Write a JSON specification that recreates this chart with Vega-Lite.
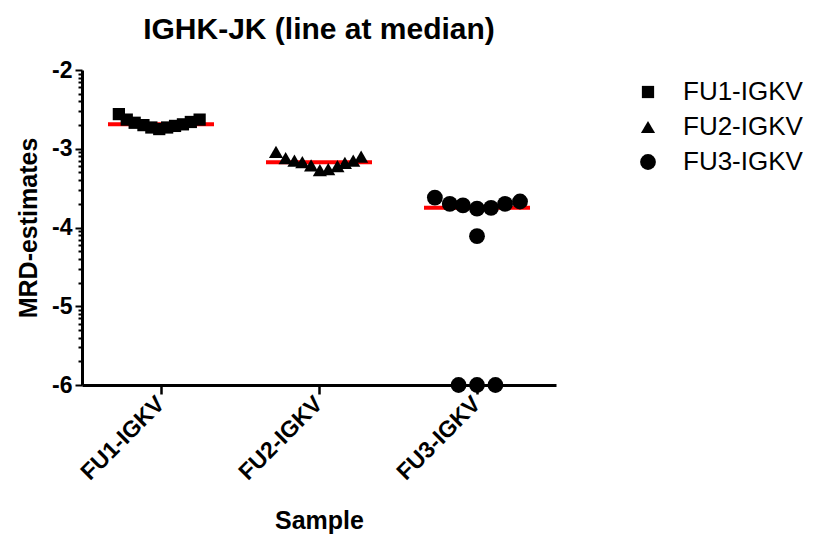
{
  "$schema": "https://vega.github.io/schema/vega-lite/v6.json",
  "width": 474,
  "height": 315,
  "autosize": "none",
  "padding": {"left": 82, "top": 70, "right": 259, "bottom": 158},
  "background": "white",
  "config": {
    "view": {"stroke": null},
    "font": "Liberation Sans"
  },
  "title": {
    "text": "IGHK-JK (line at median)",
    "font": "Liberation Sans",
    "fontSize": 30,
    "fontWeight": "bold",
    "color": "black",
    "anchor": "middle",
    "offset": 14
  },
  "data": {
    "values": [
      {"sample": "FU1-IGKV", "j": -4.8, "val": -2.56},
      {"sample": "FU1-IGKV", "j": -3.9, "val": -2.63},
      {"sample": "FU1-IGKV", "j": -3.0, "val": -2.67},
      {"sample": "FU1-IGKV", "j": -2.0, "val": -2.70},
      {"sample": "FU1-IGKV", "j": -1.1, "val": -2.73},
      {"sample": "FU1-IGKV", "j": -0.2, "val": -2.75},
      {"sample": "FU1-IGKV", "j": 0.7, "val": -2.73},
      {"sample": "FU1-IGKV", "j": 1.6, "val": -2.71},
      {"sample": "FU1-IGKV", "j": 2.5, "val": -2.69},
      {"sample": "FU1-IGKV", "j": 3.4, "val": -2.66},
      {"sample": "FU1-IGKV", "j": 4.4, "val": -2.63},
      {"sample": "FU2-IGKV", "j": -4.9, "val": -3.04},
      {"sample": "FU2-IGKV", "j": -3.8, "val": -3.12},
      {"sample": "FU2-IGKV", "j": -2.8, "val": -3.15},
      {"sample": "FU2-IGKV", "j": -1.9, "val": -3.17},
      {"sample": "FU2-IGKV", "j": -0.9, "val": -3.21},
      {"sample": "FU2-IGKV", "j": 0.1, "val": -3.27},
      {"sample": "FU2-IGKV", "j": 1.05, "val": -3.26},
      {"sample": "FU2-IGKV", "j": 2.1, "val": -3.22},
      {"sample": "FU2-IGKV", "j": 2.95, "val": -3.18},
      {"sample": "FU2-IGKV", "j": 3.9, "val": -3.15},
      {"sample": "FU2-IGKV", "j": 4.8, "val": -3.10},
      {"sample": "FU3-IGKV", "j": -4.8, "val": -3.62},
      {"sample": "FU3-IGKV", "j": -3.1, "val": -3.70},
      {"sample": "FU3-IGKV", "j": -1.6, "val": -3.72},
      {"sample": "FU3-IGKV", "j": 0, "val": -3.76},
      {"sample": "FU3-IGKV", "j": 1.6, "val": -3.75},
      {"sample": "FU3-IGKV", "j": 3.2, "val": -3.70},
      {"sample": "FU3-IGKV", "j": 4.9, "val": -3.67},
      {"sample": "FU3-IGKV", "j": 0, "val": -4.11},
      {"sample": "FU3-IGKV", "j": -2.1, "val": -6},
      {"sample": "FU3-IGKV", "j": 0, "val": -6},
      {"sample": "FU3-IGKV", "j": 2.1, "val": -6}
    ]
  },
  "encoding": {
    "x": {
      "field": "sample",
      "type": "nominal",
      "sort": ["FU1-IGKV", "FU2-IGKV", "FU3-IGKV"],
      "scale": {"paddingInner": 0, "paddingOuter": 0},
      "axis": {
        "title": "Sample",
        "titleFont": "Liberation Sans",
        "titleFontSize": 25,
        "titleFontWeight": "bold",
        "titleColor": "black",
        "titlePadding": 24,
        "labelFont": "Liberation Sans",
        "labelFontSize": 23,
        "labelFontWeight": "bold",
        "labelColor": "black",
        "labelAngle": -45,
        "labelAlign": "right",
        "labelBaseline": "middle",
        "labelPadding": 6,
        "domainColor": "black",
        "domainWidth": 3,
        "tickColor": "black",
        "tickWidth": 2.5,
        "tickSize": 9,
        "grid": false
      }
    },
    "y": {
      "type": "quantitative",
      "scale": {"domain": [-6, -2], "nice": false, "zero": false},
      "axis": {
        "title": "MRD-estimates",
        "titleFont": "Liberation Sans",
        "titleFontSize": 25,
        "titleFontWeight": "bold",
        "titleColor": "black",
        "titlePadding": 10,
        "labelFont": "Liberation Sans",
        "labelFontSize": 23,
        "labelFontWeight": "bold",
        "labelColor": "black",
        "labelOverlap": false,
        "labelPadding": 3,
        "labelExpr": "datum.value % 1 === 0 ? '-' + abs(datum.value) : ''",
        "values": [-2, -2.04576, -2.09691, -2.15490, -2.22185, -2.30103, -2.39794, -2.52288, -2.69897,
                   -3, -3.04576, -3.09691, -3.15490, -3.22185, -3.30103, -3.39794, -3.52288, -3.69897,
                   -4, -4.04576, -4.09691, -4.15490, -4.22185, -4.30103, -4.39794, -4.52288, -4.69897,
                   -5, -5.04576, -5.09691, -5.15490, -5.22185, -5.30103, -5.39794, -5.52288, -5.69897, -6],
        "domainColor": "black",
        "domainWidth": 3,
        "tickColor": "black",
        "tickWidth": 2,
        "tickSize": {"condition": {"test": "datum.value % 1 === 0", "value": 7}, "value": 4},
        "grid": false
      }
    }
  },
  "layer": [
    {
      "mark": {"type": "tick", "color": "#ff0000", "thickness": 4, "size": 106, "opacity": 1},
      "encoding": {
        "y": {"field": "val", "aggregate": "median", "type": "quantitative"}
      }
    },
    {
      "mark": {"type": "point", "filled": true, "color": "black", "opacity": 1, "strokeWidth": 0},
      "encoding": {
        "xOffset": {"field": "j", "type": "quantitative", "scale": {"domain": [-9, 9]}},
        "y": {"field": "val", "type": "quantitative"},
        "shape": {
          "field": "sample",
          "type": "nominal",
          "scale": {"domain": ["FU1-IGKV", "FU2-IGKV", "FU3-IGKV"], "range": ["square", "triangle-up", "circle"]},
          "legend": {
            "title": null,
            "orient": "none",
            "legendX": 553,
            "legendY": 9,
            "symbolFillColor": "black",
            "symbolStrokeWidth": 0,
            "labelFont": "Liberation Sans",
            "labelFontSize": 26,
            "labelColor": "black",
            "labelOffset": 22,
            "rowPadding": 9
          }
        },
        "size": {
          "field": "sample",
          "type": "nominal",
          "scale": {"domain": ["FU1-IGKV", "FU2-IGKV", "FU3-IGKV"], "range": [150, 250, 200]},
          "legend": {
            "title": null,
            "orient": "none",
            "legendX": 553,
            "legendY": 9,
            "symbolFillColor": "black",
            "symbolStrokeWidth": 0,
            "labelFont": "Liberation Sans",
            "labelFontSize": 26,
            "labelColor": "black",
            "labelOffset": 22,
            "rowPadding": 9
          }
        }
      }
    }
  ]
}
